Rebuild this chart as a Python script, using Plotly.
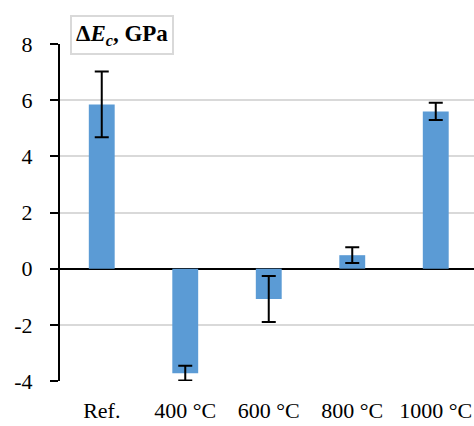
import plotly.graph_objects as go

categories = ["Ref.", "400 °C", "600 °C", "800 °C", "1000 °C"]
values = [5.85, -3.72, -1.08, 0.48, 5.6]
errors = [1.17, 0.26, 0.82, 0.28, 0.31]
y_ticks = [-4, -2, 0, 2, 4, 6, 8]

FONT = "Times New Roman"

fig = go.Figure()
fig.add_trace(go.Bar(
    x=categories, y=values,
    marker=dict(color="#5b9bd5", line=dict(width=0)),
    width=0.31,
    error_y=dict(type="data", array=errors, visible=True, color="black",
                 thickness=2, width=7),
))

fig.update_layout(
    width=474, height=426,
    margin=dict(l=60, r=0, t=44, b=45),
    paper_bgcolor="white", plot_bgcolor="white",
    showlegend=False,
    font=dict(family=FONT, size=22, color="black"),
    xaxis=dict(range=[-0.5, 4.458], showline=False, showgrid=False,
               ticks="", tickfont=dict(size=22), ticklabelstandoff=14,
               zeroline=False, automargin=False),
    yaxis=dict(range=[-4, 8], tickvals=y_ticks, ticktext=[str(v) for v in y_ticks],
               showgrid=True, gridcolor="#d9d9d9", gridwidth=1.5,
               zeroline=True, zerolinecolor="black", zerolinewidth=2,
               showline=True, linecolor="black", linewidth=2,
               ticks="outside", ticklen=8, tickwidth=2, tickcolor="black",
               tickfont=dict(size=22), ticklabelstandoff=13, automargin=False),
    annotations=[dict(
        xref="paper", yref="paper", x=10/414, y=(381-15)/337,
        xanchor="left", yanchor="top", showarrow=False,
        text="<b>Δ<i>E</i><sub><i>c</i></sub>, GPa</b>",
        font=dict(family=FONT, size=23, color="black"),
        bgcolor="white", bordercolor="#d9d9d9", borderwidth=2, borderpad=4,
    )],
)

fig.write_html("out.html")
